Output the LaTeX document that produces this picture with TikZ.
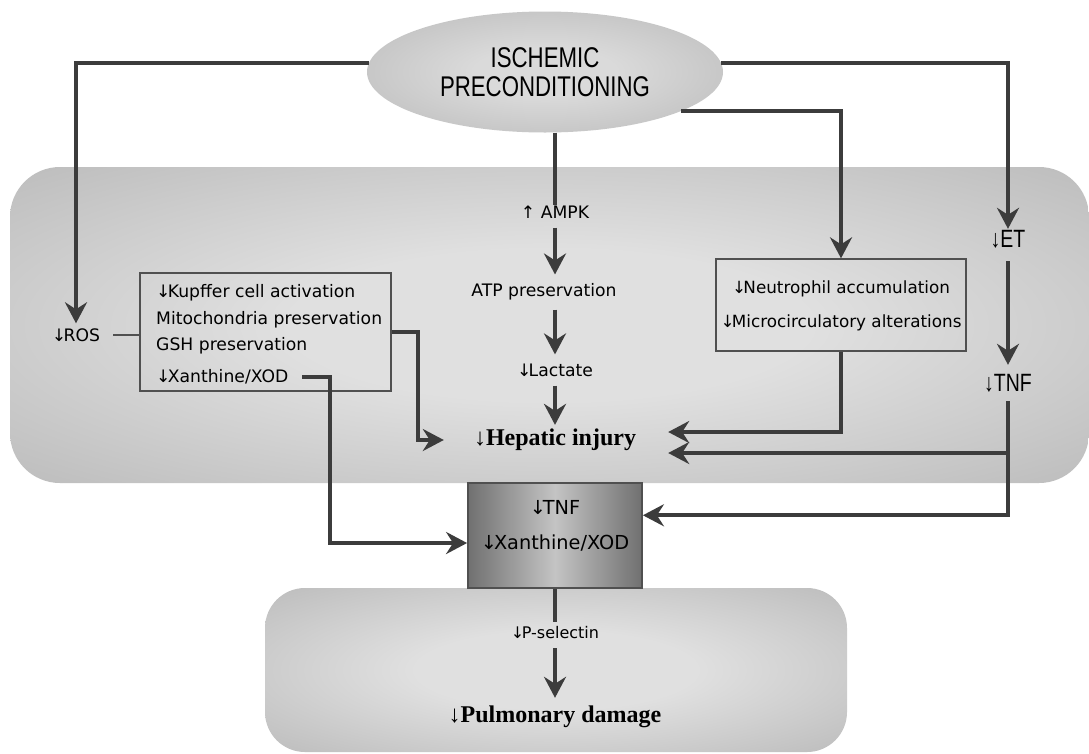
\documentclass[tikz,border=0pt]{standalone}
\usepackage{fontspec}
\setmainfont{DejaVu Sans}
\newfontfamily\condfont[FakeStretch=0.78]{Liberation Sans}
\newfontfamily\serifb{Liberation Serif}
\usetikzlibrary{arrows.meta,shapes.geometric,calc}
\newcommand{\dnar}{↓\kern-0.16em}
\definecolor{lnc}{HTML}{3C3C3C}
\definecolor{boxc}{HTML}{505050}
\definecolor{cin}{HTML}{E0E0E0}
\definecolor{cout}{HTML}{B0B0B0}
\definecolor{ein}{HTML}{DADADA}
\definecolor{eout}{HTML}{A8A8A8}
\definecolor{colside}{HTML}{707070}
\definecolor{colmid}{HTML}{C4C4C4}
\pgfdeclareradialshading{soft}{\pgfpoint{0bp}{0bp}}{color(0bp)=(cin); color(12bp)=(cin); color(44bp)=(cout); color(80bp)=(cout)}
\pgfdeclareradialshading{ellsh}{\pgfpoint{0bp}{0bp}}{color(0bp)=(ein); color(10bp)=(ein); color(50bp)=(eout); color(80bp)=(eout)}
\begin{document}
\begin{tikzpicture}[x=1pt,y=-1pt,
  conn/.style={line width=4pt, draw=lnc},
  arr/.style={conn, -{Stealth[length=21pt,width=22pt,inset=7pt]}},
  thinln/.style={line width=1.3pt, draw=boxc},
  lbl/.style={font=\fontsize{17.2}{20}\selectfont, inner sep=1pt, text=black},
  cond/.style={font=\condfont\fontsize{25}{28}\selectfont, inner sep=1pt, text=black},
  mid/.style={font=\fontsize{19.3}{22}\selectfont, inner sep=1pt, text=black},
  big/.style={font=\serifb\bfseries\fontsize{24}{28}\selectfont, inner sep=2pt, text=black},
  region/.style={shading=soft, rounded corners=50pt}]
\useasboundingbox (0,0) rectangle (1089,753);
\fill[white] (0,0) rectangle (1089,753);
% background regions
\path[region] (10,167) rectangle (1089,483);
\path[region, rounded corners=40pt] (265,588) rectangle (847,752);
\node[draw=boxc, line width=1.8pt, minimum width=174, minimum height=105, inner sep=0,
      left color=colside, right color=colside, middle color=colmid] (col) at (555,535.5) {};
% top ellipse
\node[ellipse, shading=ellsh, minimum width=356, minimum height=121, inner sep=0,
      align=center, font=\condfont\fontsize{28.5}{29}\selectfont] (ell) at (545,72)
      {ISCHEMIC\\PRECONDITIONING};
% left column
\node[lbl] (ros) at (76,335) {\dnar ROS};
\node[thinln, draw, minimum width=251, minimum height=118, inner sep=0] (kbox) at (265.5,332) {};
\node[lbl, anchor=west] (k1) at (155,293) {\dnar Kupffer cell activation};
\node[lbl, anchor=west] (k2) at (155,320) {Mitochondria preservation};
\node[lbl, anchor=west] (k3) at (155,346) {GSH preservation};
\node[lbl, anchor=west] (k4) at (155,377) {\dnar Xanthine/XOD};
% centre chain
\node[lbl] (ampk) at (555,212) {↑ AMPK};
\node[lbl] (atp) at (544,292) {ATP preservation};
\node[lbl] (lac) at (555,370) {\dnar Lactate};
\node[big] (hep) at (555,440) {↓Hepatic injury};
% neutrophil box
\node[thinln, draw, minimum width=250, minimum height=92, inner sep=0] (nbox) at (841,305) {};
\node[lbl, font=\fontsize{16.8}{20}\selectfont] (n1) at (841,289) {\dnar Neutrophil accumulation};
\node[lbl, font=\fontsize{16.8}{20}\selectfont] (n2) at (841,323) {\dnar Microcirculatory alterations};
% right chain
\node[cond] (et) at (1008,239) {↓ET};
\node[cond] (tnf) at (1008,383) {↓TNF};
% column texts
\node[mid] (ctnf) at (555,507) {\dnar TNF};
\node[mid] (cxan) at (555,543) {\dnar Xanthine/XOD};
% lung
\node[lbl, font=\fontsize{16}{19}\selectfont] (psel) at (555,633) {\dnar P-selectin};
\node[big] (pul) at (555,717) {↓Pulmonary damage};

% connectors
\draw[arr] (ell.177) -| ($(ros.north)+(0,-4)$);
\draw[thinln] (ros.east)++(12,0) coordinate (rosx) -- (rosx -| kbox.west);
\draw[arr] (ell.3) -| (et.north);
\draw[arr] (ell.-16) -| (nbox.north);
\draw[conn] (ampk |- ell.south) -- (ampk.north);
\draw[arr] ($(ampk.south)+(0,8)$) -- ($(ampk.south |- atp.north)+(0,-8)$);
\draw[arr] ($(ampk.south |- atp.south)+(0,8)$) -- ($(lac.north)+(0,-8)$);
\draw[arr] ($(lac.south)+(0,8)$) -- ($(hep.north)+(0,-2)$);
\draw[arr] (kbox.east) -- ++(26,0) |- ($(hep.west)+(-28,0)$);
\draw[arr] ($(k4.east)+(13,0)$) -- ++(28,0) |- (cxan.west -| col.west);
\draw[arr] (nbox.south) |- ($(hep.east)+(30,-8)$);
\draw[arr] ($(et.south)+(0,12)$) -- ($(tnf.north)+(0,-8)$);
\draw[arr] ($(tnf.south)+(0,8)$) |- (col.east |- ctnf.south);
\draw[arr] (tnf.south |- 0,453) -- ($(hep.east)+(30,13)$);
\draw[conn] (col.south) -- ($(psel.north)+(0,-4)$);
\draw[arr] ($(psel.south)+(0,8)$) -- ($(pul.north)+(0,-6)$);
\end{tikzpicture}
\end{document}
